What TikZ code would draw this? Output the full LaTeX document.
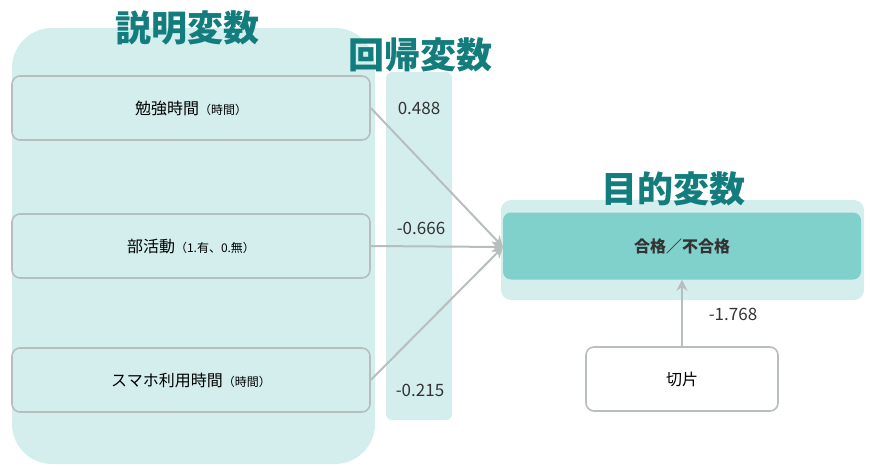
\documentclass[tikz,border=0pt]{standalone}
\usepackage{fontspec}
\setmainfont{Noto Sans CJK JP}
\usetikzlibrary{positioning, arrows.meta}
\definecolor{panel}{HTML}{D4EEEE}
\definecolor{title}{HTML}{137D7D}
\definecolor{target}{HTML}{80D0CB}
\definecolor{edge}{HTML}{B8BEBE}

\begin{document}
\begin{tikzpicture}[x=1pt, y=-1pt, >={Stealth[length=11pt,width=11pt]},
    var/.style={draw=edge, line width=1.6pt, rounded corners=8pt, fill=panel,
      minimum width=358pt, minimum height=64pt, font=\fontsize{16}{18}\selectfont},
    head/.style={text=title, font=\fontsize{36}{38}\selectfont\bfseries},
    coef/.style={font=\fontsize{17}{19}\selectfont, text=black!80},
    link/.style={->, draw=edge, line width=2pt}]

  \useasboundingbox (0,0) rectangle (874,474);

  % panels
  \fill[panel, rounded corners=40pt] (12,28) rectangle (375,464);
  \fill[panel, rounded corners=6pt] (386,72) rectangle (452,420);
  \fill[panel, rounded corners=10pt] (501,200) rectangle (864,300);

  \node[head] (tExpl) at (187,28) {説明変数};
  \node[head] (tCoef) at (420,55) {回帰変数};
  \node[head] (tObj) at (673,189) {目的変数};

  % explanatory variables
  \node[var] (study) at (191,108) {勉強時間{\fontsize{12}{14}\selectfont（時間）}};
  \node[var] (club) at (191,246) {部活動{\fontsize{12}{14}\selectfont（1.有、0.無）}};
  \node[var] (phone) at (191,380) {スマホ利用時間{\fontsize{12}{14}\selectfont（時間）}};

  % target
  \node[fill=target, rounded corners=8pt, minimum width=358pt, minimum height=67pt,
    font=\fontsize{16}{18}\selectfont\bfseries, text=black!80] (pass) at (682,246) {合格／不合格};
  \node[var, fill=white, minimum width=192pt] (icpt) at (682,379) {切片};

  \coordinate (in) at (503,247);
  \draw[link] (study.east) -- (in);
  \draw[link] (club.east) -- (in);
  \draw[link] (phone.east) -- (in);
  \draw[link] (icpt.north) -- (pass.south);

  \node[coef] (c1) at (419,108) {0.488};
  \node[coef] (c2) at (421,228) {-0.666};
  \node[coef] (c3) at (420,390) {-0.215};
  \node[coef] (c4) at (733,314) {-1.768};
\end{tikzpicture}
\end{document}
